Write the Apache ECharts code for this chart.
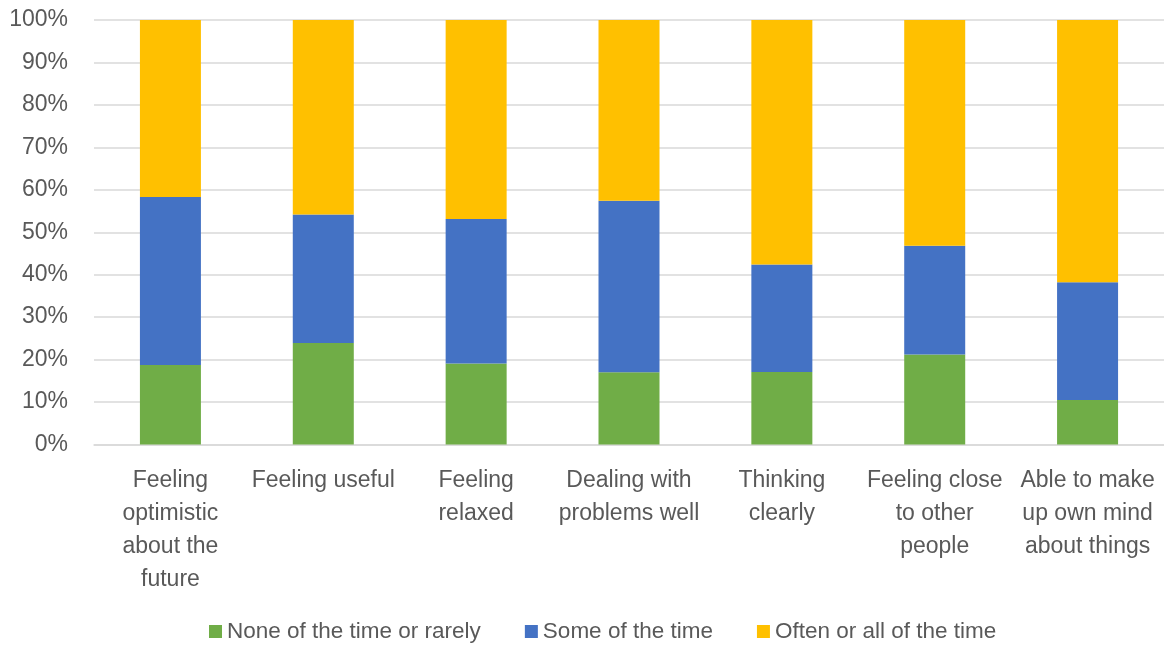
<!DOCTYPE html>
<html>
<head>
<meta charset="utf-8">
<script src="https://cdn.jsdelivr.net/npm/echarts@6/dist/echarts.min.js"></script>
<style>
  html, body { margin: 0; padding: 0; background: #ffffff; }
  #chart { width: 1164px; height: 646px; }
</style>
</head>
<body>
<div id="chart"></div>
<script>
// Wellbeing items (line breaks as wrapped under each bar)
const categories = [
  "Feeling\noptimistic\nabout the\nfuture",
  "Feeling useful",
  "Feeling\nrelaxed",
  "Dealing with\nproblems well",
  "Thinking\nclearly",
  "Feeling close\nto other\npeople",
  "Able to make\nup own mind\nabout things"
];

const seriesNames = ["None of the time or rarely", "Some of the time", "Often or all of the time"];

// Share of respondents, percent
const noneOrRarely = [18.7, 23.9, 19.1, 17.0, 17.1, 21.2, 10.5];
const someOfTime   = [39.6, 30.3, 34.0, 40.4, 25.3, 25.6, 27.7];
const oftenOrAll   = [41.7, 45.8, 46.9, 42.6, 57.6, 53.2, 61.8];

const colors = ["#70ad47", "#4472c4", "#ffc000"];
const textColor = "#595959";
const fontFamily = "'Liberation Sans', Arial, sans-serif";

const chart = echarts.init(document.getElementById("chart"), null, { renderer: "canvas" });

function barSeries(name, data, color) {
  return {
    name: name,
    type: "bar",
    stack: "total",
    data: data,
    barWidth: 61,
    itemStyle: { color: color },
    emphasis: { disabled: true }
  };
}

chart.setOption({
  animation: false,
  backgroundColor: "#ffffff",
  textStyle: { fontFamily: fontFamily },
  grid: { left: 94, right: -5, top: 20, bottom: 201.5, containLabel: false },
  legend: {
    bottom: -2,
    left: 204,
    itemWidth: 13,
    itemHeight: 13,
    itemGap: 44,
    icon: "rect",
    textStyle: { color: textColor, fontSize: 22.5, fontFamily: fontFamily },
    data: seriesNames
  },
  xAxis: {
    type: "category",
    data: categories,
    axisLine: { show: true, lineStyle: { color: "#d9d9d9", width: 1.5 } },
    axisTick: { show: false },
    axisLabel: {
      color: textColor,
      fontSize: 23,
      lineHeight: 33,
      margin: 19.5,
      interval: 0,
      align: "center"
    }
  },
  yAxis: {
    type: "value",
    min: 0,
    max: 100,
    interval: 10,
    axisLine: { show: false },
    axisTick: { show: false },
    splitLine: { lineStyle: { color: "#d9d9d9", width: 1.5 } },
    axisLabel: {
      color: textColor,
      fontSize: 23,
      margin: 26,
      formatter: v => v + "%"
    }
  },
  series: [
    barSeries(seriesNames[0], noneOrRarely, colors[0]),
    barSeries(seriesNames[1], someOfTime, colors[1]),
    barSeries(seriesNames[2], oftenOrAll, colors[2])
  ]
});
</script>
</body>
</html>
